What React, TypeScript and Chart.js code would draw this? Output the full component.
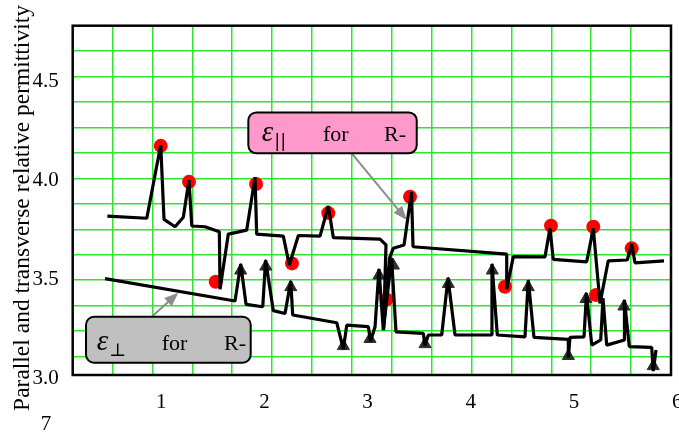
import React, { useEffect, useRef } from 'react';
import { Chart, registerables } from 'chart.js';

Chart.register(...registerables);

// ε∥ curve (x, value)
const parallelX = [0.478, 0.860, 0.995, 1.027, 1.134, 1.214, 1.269, 1.296, 1.424, 1.563, 1.570, 1.650, 1.828, 1.909, 1.925, 2.183, 2.241, 2.329, 2.539, 2.619, 2.668, 3.120, 3.178, 3.154, 3.212, 3.249, 3.353, 3.425, 3.440, 4.348, 4.348, 4.412, 4.719, 4.767, 4.799, 5.123, 5.187, 5.252, 5.332, 5.516, 5.559, 5.591, 5.872];
const parallelY = [3.821, 3.810, 4.180, 3.804, 3.767, 3.815, 4.003, 3.771, 3.767, 3.742, 3.451, 3.730, 3.750, 4.017, 3.730, 3.720, 3.574, 3.723, 3.720, 3.872, 3.712, 3.705, 3.675, 3.245, 3.609, 3.658, 3.675, 3.942, 3.666, 3.629, 3.452, 3.616, 3.615, 3.759, 3.602, 3.590, 3.759, 3.380, 3.595, 3.599, 3.680, 3.585, 3.595];

// ε⊥ curve
const perpX = [0.455, 1.715, 1.770, 1.822, 1.984, 2.011, 2.086, 2.200, 2.255, 2.274, 2.701, 2.765, 2.798, 3.007, 3.028, 3.072, 3.110, 3.152, 3.232, 3.275, 3.540, 3.556, 3.588, 3.718, 3.779, 3.847, 4.203, 4.205, 4.257, 4.525, 4.557, 4.612, 4.945, 4.945, 4.961, 5.097, 5.121, 5.172, 5.259, 5.281, 5.317, 5.489, 5.489, 5.536, 5.753, 5.768, 5.795];
const perpY = [3.505, 3.392, 3.579, 3.375, 3.363, 3.599, 3.343, 3.329, 3.493, 3.321, 3.282, 3.149, 3.270, 3.262, 3.189, 3.262, 3.553, 3.245, 3.609, 3.236, 3.228, 3.167, 3.220, 3.220, 3.508, 3.220, 3.220, 3.579, 3.220, 3.211, 3.498, 3.208, 3.198, 3.106, 3.208, 3.211, 3.432, 3.169, 3.195, 3.407, 3.169, 3.195, 3.397, 3.161, 3.158, 3.038, 3.144];

// red circle markers (ε∥ extrema)
const dotX = [0.995, 1.269, 1.528, 1.919, 2.267, 2.619, 3.183, 3.411, 4.331, 4.777, 5.187, 5.213, 5.559];
const dotY = [4.176, 3.994, 3.489, 3.983, 3.582, 3.836, 3.400, 3.919, 3.464, 3.772, 3.767, 3.422, 3.658];

// triangle markers (ε⊥ extrema)
const triX = [1.770, 2.013, 2.255, 2.765, 3.023, 3.110, 3.249, 3.556, 3.782, 4.208, 4.557, 4.945, 5.116, 5.484, 5.768];
const triY = [3.546, 3.566, 3.462, 3.164, 3.200, 3.521, 3.571, 3.174, 3.478, 3.546, 3.462, 3.114, 3.402, 3.364, 3.063];

const xTicks = [1, 2, 3, 4, 5, 6];
const yTicks = [3.0, 3.5, 4.0, 4.5];
const xRange = [0.142, 5.94];
const yRange = [3.018, 4.783];
const yTitle = 'Parallel and transverse relative permittivity';
const strayText = '7';

const SERIF = '"Liberation Serif", "Times New Roman", Times, serif';

const annotations = [
  {
    fill: '#ff99cc', box: [1.844, 4.345, 3.476, 4.138], sub: '||', subFont: '18px "DejaVu Sans", sans-serif',
    eps: 1.974, forX: 2.568, rX: 3.159, base: 4.200, arrow: [2.846, 4.138, 3.379, 3.801],
  },
  {
    fill: '#c0c0c0', box: [0.271, 3.312, 1.867, 3.080], sub: '⊥', subFont: '18px "DejaVu Serif", serif',
    eps: 0.375, forX: 1.005, rX: 1.609, base: 3.144, arrow: [0.908, 3.312, 1.166, 3.434],
  },
];

function pts(xs: number[], ys: number[]) {
  return xs.map((x, i) => ({ x, y: ys[i] }));
}

function roundRect(ctx: CanvasRenderingContext2D, x: number, y: number, w: number, h: number, r: number) {
  ctx.beginPath();
  ctx.moveTo(x + r, y);
  ctx.arcTo(x + w, y, x + w, y + h, r);
  ctx.arcTo(x + w, y + h, x, y + h, r);
  ctx.arcTo(x, y + h, x, y, r);
  ctx.arcTo(x, y, x + w, y, r);
  ctx.closePath();
}

function drawArrow(ctx: CanvasRenderingContext2D, x1: number, y1: number, x2: number, y2: number) {
  const a = Math.atan2(y2 - y1, x2 - x1);
  const L = 14, W = 5.5;
  ctx.strokeStyle = '#8c8c8c';
  ctx.fillStyle = '#8c8c8c';
  ctx.lineWidth = 2;
  ctx.beginPath();
  ctx.moveTo(x1, y1);
  ctx.lineTo(x2 - L * 0.8 * Math.cos(a), y2 - L * 0.8 * Math.sin(a));
  ctx.stroke();
  ctx.beginPath();
  ctx.moveTo(x2, y2);
  ctx.lineTo(x2 - L * Math.cos(a) + W * Math.sin(a), y2 - L * Math.sin(a) - W * Math.cos(a));
  ctx.lineTo(x2 - L * Math.cos(a) - W * Math.sin(a), y2 - L * Math.sin(a) + W * Math.cos(a));
  ctx.closePath();
  ctx.fill();
}

const decorPlugin = {
  id: 'decor',
  afterDatasetsDraw(chart: any) {
    const { ctx, chartArea: ca, scales } = chart;
    const sx = scales.x, sy = scales.y;
    ctx.save();
    // frame
    ctx.strokeStyle = '#000';
    ctx.lineWidth = 2.5;
    ctx.strokeRect(ca.left, ca.top, ca.right - ca.left, ca.bottom - ca.top);
    // annotation boxes
    for (const a of annotations) {
      drawArrow(ctx, sx.getPixelForValue(a.arrow[0]), sy.getPixelForValue(a.arrow[1]),
        sx.getPixelForValue(a.arrow[2]), sy.getPixelForValue(a.arrow[3]));
      const x1 = sx.getPixelForValue(a.box[0]), y1 = sy.getPixelForValue(a.box[1]);
      const x2 = sx.getPixelForValue(a.box[2]), y2 = sy.getPixelForValue(a.box[3]);
      roundRect(ctx, x1, y1, x2 - x1, y2 - y1, 8);
      ctx.fillStyle = a.fill;
      ctx.fill();
      ctx.strokeStyle = '#000';
      ctx.lineWidth = 2;
      ctx.stroke();
      const by = sy.getPixelForValue(a.base);
      ctx.fillStyle = '#000';
      ctx.textBaseline = 'alphabetic';
      ctx.textAlign = 'left';
      ctx.font = 'italic 29px ' + SERIF;
      const ex = sx.getPixelForValue(a.eps);
      ctx.fillText('ε', ex, by);
      const ew = ctx.measureText('ε').width;
      ctx.font = a.subFont;
      ctx.fillText(a.sub, ex + ew + 1, by + 6);
      ctx.font = '22px ' + SERIF;
      ctx.fillText('for', sx.getPixelForValue(a.forX), by);
      ctx.fillText('R-', sx.getPixelForValue(a.rX), by);
    }
    ctx.restore();
  },
  afterDraw(chart: any) {
    const { ctx } = chart;
    ctx.save();
    ctx.fillStyle = '#000';
    ctx.font = '23.5px ' + SERIF;
    ctx.textAlign = 'center';
    ctx.textBaseline = 'middle';
    ctx.translate(23, 208);
    ctx.rotate(-Math.PI / 2);
    ctx.fillText(yTitle, 0, 0);
    ctx.restore();
    ctx.save();
    ctx.fillStyle = '#000';
    ctx.font = '21px ' + SERIF;
    ctx.textAlign = 'center';
    ctx.textBaseline = 'alphabetic';
    ctx.fillText(strayText, 46, 430);
    ctx.restore();
  },
};

const GRID = '#2ee62e';

function noPad(s: any) {
  s.paddingLeft = 0;
  s.paddingRight = 0;
  s.paddingTop = 0;
  s.paddingBottom = 0;
}

export default function App() {
  const ref = useRef<HTMLCanvasElement | null>(null);
  useEffect(() => {
    if (!ref.current) return;
    const lineStyle = { borderColor: '#000', borderWidth: 3.2, borderJoinStyle: 'bevel', pointRadius: 0, tension: 0, fill: false, order: 0 };
    const chart = new Chart(ref.current, {
      type: 'line',
      data: {
        datasets: [
          { label: 'par', data: pts(parallelX, parallelY), ...lineStyle },
          { label: 'perp', data: pts(perpX, perpY), ...lineStyle },
          { label: 'dots', data: pts(dotX, dotY), showLine: false, pointRadius: 7, pointBackgroundColor: '#ff0000', pointBorderWidth: 0, pointBorderColor: '#ff0000', order: 1 },
          { label: 'tris', data: pts(triX, triY), showLine: false, pointStyle: 'triangle', pointRadius: 7, pointBackgroundColor: '#2e2e2e', pointBorderColor: '#2e2e2e', pointBorderWidth: 1, order: 1 },
        ] as any,
      },
      options: {
        animation: false,
        responsive: false,
        devicePixelRatio: 1,
        layout: { padding: { top: 25.7, right: 8, left: 0, bottom: 0 }, autoPadding: false } as any,
        plugins: { legend: { display: false }, tooltip: { enabled: false } },
        scales: {
          x: {
            type: 'linear', position: 'bottom', min: xRange[0], max: xRange[1],
            afterBuildTicks: (s: any) => { s.ticks = xTicks.map((v) => ({ value: v })); },
            afterFit: (s: any) => { s.height = 60; noPad(s); },
            grid: { display: false, drawTicks: false },
            border: { display: false },
            ticks: { autoSkip: false, maxRotation: 0, padding: 15, color: '#000', font: { family: SERIF, size: 21 }, callback: (v: any) => String(v) },
          },
          y: {
            type: 'linear', position: 'left', min: yRange[0], max: yRange[1],
            afterBuildTicks: (s: any) => { s.ticks = yTicks.map((v) => ({ value: v })); },
            afterFit: (s: any) => { s.width = 72.7; noPad(s); },
            grid: { display: false, drawTicks: false },
            border: { display: false },
            ticks: { autoSkip: false, padding: 14, color: '#000', font: { family: SERIF, size: 21 }, callback: (v: any) => Number(v).toFixed(1) },
          },
          xg: {
            type: 'linear', position: 'top', min: 0, max: 15,
            afterBuildTicks: (s: any) => { s.ticks = Array.from({ length: 14 }, (_, i) => ({ value: i + 1 })); },
            afterFit: (s: any) => { s.height = 0; noPad(s); },
            grid: { color: GRID, lineWidth: 1.5, drawTicks: false },
            border: { display: false },
            ticks: { display: false },
          },
          yg: {
            type: 'linear', position: 'right', min: 0, max: 13.725, reverse: true,
            afterBuildTicks: (s: any) => { s.ticks = Array.from({ length: 13 }, (_, i) => ({ value: i + 1 })); },
            afterFit: (s: any) => { s.width = 0; noPad(s); },
            grid: { color: GRID, lineWidth: 1.5, drawTicks: false },
            border: { display: false },
            ticks: { display: false },
          },
        } as any,
      },
      plugins: [decorPlugin],
    });
    return () => chart.destroy();
  }, []);
  return (
    <div style={{ position: 'fixed', left: 0, top: 0, width: 679, height: 435, background: '#fff' }}>
      <canvas ref={ref} width={679} height={435} style={{ display: 'block' }} />
    </div>
  );
}
